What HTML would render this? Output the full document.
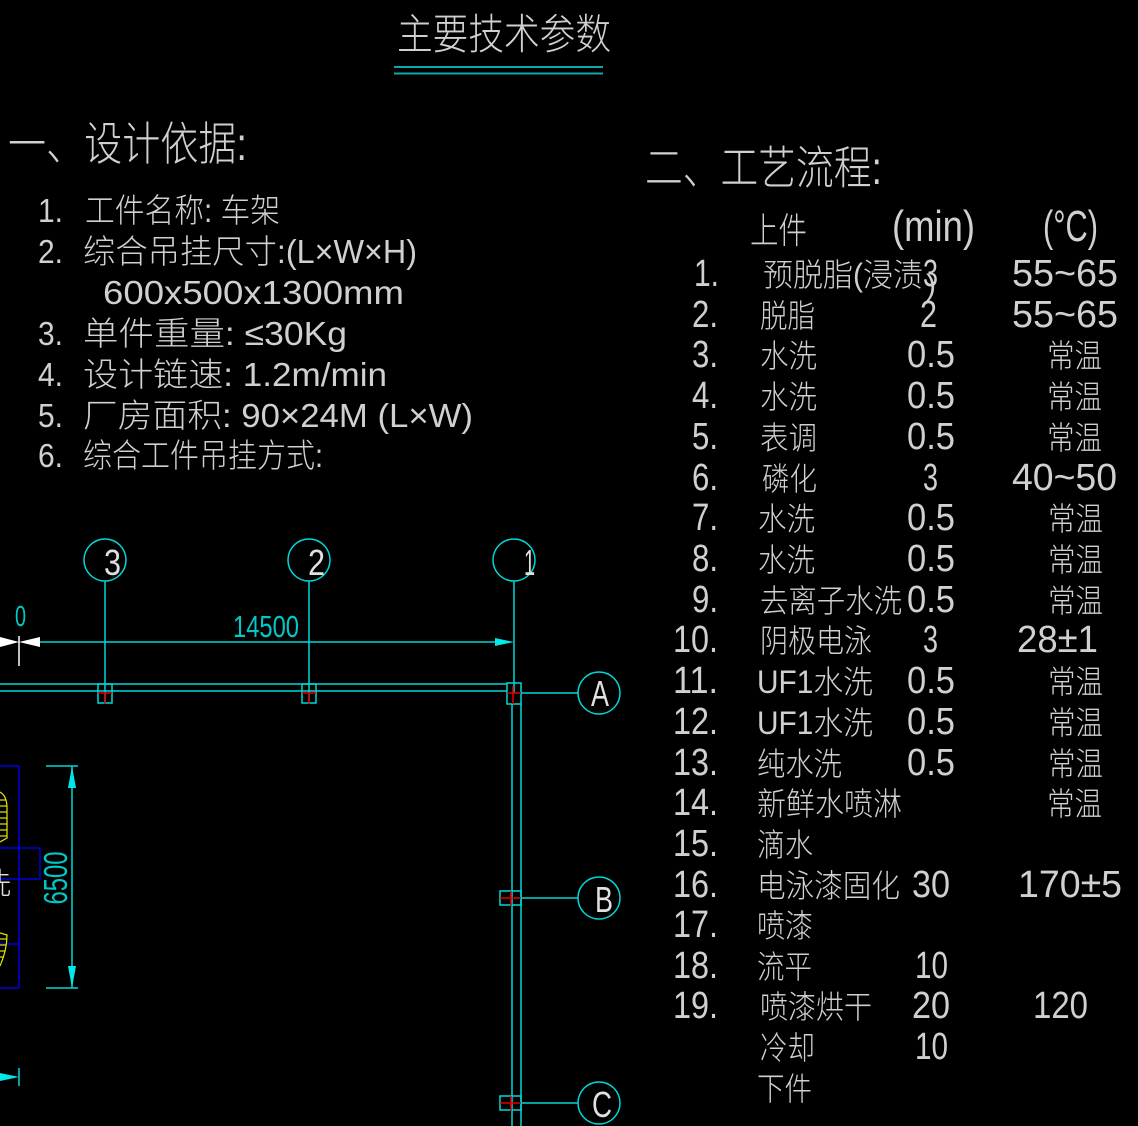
<!DOCTYPE html>
<html><head><meta charset="utf-8"><style>
html,body{margin:0;padding:0;background:#000;}
svg{display:block;}
text{font-family:"Liberation Sans","Noto Sans CJK SC",sans-serif;fill:#d0d0d0;font-weight:300;}
</style></head><body>
<svg width="1138" height="1126" viewBox="0 0 1138 1126" xmlns="http://www.w3.org/2000/svg">
<rect x="0" y="0" width="1138" height="1126" fill="#000"/>

<!-- Title -->
<text x="397" y="49" font-size="42" textLength="214" lengthAdjust="spacingAndGlyphs">主要技术参数</text>
<line x1="394" y1="67" x2="603" y2="67" stroke="#10a8a8" stroke-width="2"/>
<line x1="394" y1="73.5" x2="603" y2="73.5" stroke="#10a8a8" stroke-width="2"/>

<!-- Section 1 -->
<text x="8" y="160" font-size="46" textLength="239" lengthAdjust="spacingAndGlyphs">一、设计依据:</text>
<g font-size="33">
<text x="38" y="222" textLength="25" lengthAdjust="spacingAndGlyphs">1.</text>
<text x="85" y="222" textLength="195" lengthAdjust="spacingAndGlyphs">工件名称: 车架</text>
<text x="38" y="263" textLength="25" lengthAdjust="spacingAndGlyphs">2.</text>
<text x="83" y="263" textLength="334" lengthAdjust="spacingAndGlyphs">综合吊挂尺寸:(L×W×H)</text>
<text x="103" y="304" textLength="301" lengthAdjust="spacingAndGlyphs">600x500x1300mm</text>
<text x="38" y="345" textLength="25" lengthAdjust="spacingAndGlyphs">3.</text>
<text x="83" y="345" textLength="264" lengthAdjust="spacingAndGlyphs">单件重量:  ≤30Kg</text>
<text x="38" y="386" textLength="25" lengthAdjust="spacingAndGlyphs">4.</text>
<text x="83" y="386" textLength="304" lengthAdjust="spacingAndGlyphs">设计链速: 1.2m/min</text>
<text x="38" y="427" textLength="25" lengthAdjust="spacingAndGlyphs">5.</text>
<text x="83" y="427" textLength="390" lengthAdjust="spacingAndGlyphs">厂房面积: 90×24M (L×W)</text>
<text x="38" y="467" textLength="25" lengthAdjust="spacingAndGlyphs">6.</text>
<text x="83" y="467" textLength="240" lengthAdjust="spacingAndGlyphs">综合工件吊挂方式:</text>
</g>

<!-- Section 2 -->
<text x="645" y="184" font-size="46" textLength="237" lengthAdjust="spacingAndGlyphs">二、工艺流程:</text>
<text x="750" y="243" font-size="36" textLength="57" lengthAdjust="spacingAndGlyphs">上件</text>
<text x="892" y="241" font-size="44" textLength="83" lengthAdjust="spacingAndGlyphs">(min)</text>
<text x="1043" y="241" font-size="44" textLength="55" lengthAdjust="spacingAndGlyphs">(°C)</text>

<g font-size="38">
<!-- numbers -->
<text x="694" y="286" textLength="25" lengthAdjust="spacingAndGlyphs">1.</text>
<text x="692" y="327" textLength="26" lengthAdjust="spacingAndGlyphs">2.</text>
<text x="692" y="367" textLength="26" lengthAdjust="spacingAndGlyphs">3.</text>
<text x="692" y="408" textLength="26" lengthAdjust="spacingAndGlyphs">4.</text>
<text x="692" y="449" textLength="26" lengthAdjust="spacingAndGlyphs">5.</text>
<text x="692" y="490" textLength="26" lengthAdjust="spacingAndGlyphs">6.</text>
<text x="692" y="530" textLength="26" lengthAdjust="spacingAndGlyphs">7.</text>
<text x="692" y="571" textLength="26" lengthAdjust="spacingAndGlyphs">8.</text>
<text x="692" y="612" textLength="26" lengthAdjust="spacingAndGlyphs">9.</text>
<text x="673" y="652" textLength="45" lengthAdjust="spacingAndGlyphs">10.</text>
<text x="673" y="693" textLength="45" lengthAdjust="spacingAndGlyphs">11.</text>
<text x="673" y="734" textLength="45" lengthAdjust="spacingAndGlyphs">12.</text>
<text x="673" y="775" textLength="45" lengthAdjust="spacingAndGlyphs">13.</text>
<text x="673" y="815" textLength="45" lengthAdjust="spacingAndGlyphs">14.</text>
<text x="673" y="856" textLength="45" lengthAdjust="spacingAndGlyphs">15.</text>
<text x="673" y="897" textLength="45" lengthAdjust="spacingAndGlyphs">16.</text>
<text x="673" y="937" textLength="45" lengthAdjust="spacingAndGlyphs">17.</text>
<text x="673" y="978" textLength="45" lengthAdjust="spacingAndGlyphs">18.</text>
<text x="673" y="1018" textLength="45" lengthAdjust="spacingAndGlyphs">19.</text>

<!-- minutes -->
<text x="923" y="286" textLength="15" lengthAdjust="spacingAndGlyphs">3</text>
<text x="920" y="327" textLength="17" lengthAdjust="spacingAndGlyphs">2</text>
<text x="907" y="367" textLength="48" lengthAdjust="spacingAndGlyphs">0.5</text>
<text x="907" y="408" textLength="48" lengthAdjust="spacingAndGlyphs">0.5</text>
<text x="907" y="449" textLength="48" lengthAdjust="spacingAndGlyphs">0.5</text>
<text x="923" y="490" textLength="15" lengthAdjust="spacingAndGlyphs">3</text>
<text x="907" y="530" textLength="48" lengthAdjust="spacingAndGlyphs">0.5</text>
<text x="907" y="571" textLength="48" lengthAdjust="spacingAndGlyphs">0.5</text>
<text x="907" y="612" textLength="48" lengthAdjust="spacingAndGlyphs">0.5</text>
<text x="923" y="652" textLength="15" lengthAdjust="spacingAndGlyphs">3</text>
<text x="907" y="693" textLength="48" lengthAdjust="spacingAndGlyphs">0.5</text>
<text x="907" y="734" textLength="48" lengthAdjust="spacingAndGlyphs">0.5</text>
<text x="907" y="775" textLength="48" lengthAdjust="spacingAndGlyphs">0.5</text>
<text x="912" y="897" textLength="38" lengthAdjust="spacingAndGlyphs">30</text>
<text x="915" y="978" textLength="33" lengthAdjust="spacingAndGlyphs">10</text>
<text x="912" y="1018" textLength="38" lengthAdjust="spacingAndGlyphs">20</text>
<text x="915" y="1059" textLength="33" lengthAdjust="spacingAndGlyphs">10</text>

<!-- temperatures (numeric) -->
<text x="1012" y="286" textLength="106" lengthAdjust="spacingAndGlyphs">55~65</text>
<text x="1012" y="327" textLength="106" lengthAdjust="spacingAndGlyphs">55~65</text>
<text x="1012" y="490" textLength="105" lengthAdjust="spacingAndGlyphs">40~50</text>
<text x="1017" y="652" textLength="81" lengthAdjust="spacingAndGlyphs">28±1</text>
<text x="1018" y="897" textLength="104" lengthAdjust="spacingAndGlyphs">170±5</text>
<text x="1033" y="1018" textLength="55" lengthAdjust="spacingAndGlyphs">120</text>
</g>

<g font-size="32">
<!-- names -->
<text x="763" y="286" textLength="160" lengthAdjust="spacingAndGlyphs">预脱脂(浸渍</text>
<text x="760" y="327" textLength="55" lengthAdjust="spacingAndGlyphs">脱脂</text>
<text x="760" y="367" textLength="57" lengthAdjust="spacingAndGlyphs">水洗</text>
<text x="760" y="408" textLength="57" lengthAdjust="spacingAndGlyphs">水洗</text>
<text x="760" y="449" textLength="57" lengthAdjust="spacingAndGlyphs">表调</text>
<text x="762" y="490" textLength="55" lengthAdjust="spacingAndGlyphs">磷化</text>
<text x="758" y="530" textLength="57" lengthAdjust="spacingAndGlyphs">水洗</text>
<text x="758" y="571" textLength="57" lengthAdjust="spacingAndGlyphs">水洗</text>
<text x="760" y="612" textLength="142" lengthAdjust="spacingAndGlyphs">去离子水洗</text>
<text x="760" y="652" textLength="112" lengthAdjust="spacingAndGlyphs">阴极电泳</text>
<text x="757" y="693" textLength="116" lengthAdjust="spacingAndGlyphs">UF1水洗</text>
<text x="757" y="734" textLength="116" lengthAdjust="spacingAndGlyphs">UF1水洗</text>
<text x="757" y="775" textLength="85" lengthAdjust="spacingAndGlyphs">纯水洗</text>
<text x="757" y="815" textLength="145" lengthAdjust="spacingAndGlyphs">新鲜水喷淋</text>
<text x="757" y="856" textLength="56" lengthAdjust="spacingAndGlyphs">滴水</text>
<text x="757" y="897" textLength="143" lengthAdjust="spacingAndGlyphs">电泳漆固化</text>
<text x="757" y="937" textLength="56" lengthAdjust="spacingAndGlyphs">喷漆</text>
<text x="757" y="978" textLength="55" lengthAdjust="spacingAndGlyphs">流平</text>
<text x="760" y="1018" textLength="112" lengthAdjust="spacingAndGlyphs">喷漆烘干</text>
<text x="760" y="1059" textLength="55" lengthAdjust="spacingAndGlyphs">冷却</text>
<text x="757" y="1100" textLength="55" lengthAdjust="spacingAndGlyphs">下件</text>

<!-- temperatures 常温 -->
<text x="1047" y="367" textLength="55" lengthAdjust="spacingAndGlyphs">常温</text>
<text x="1047" y="408" textLength="55" lengthAdjust="spacingAndGlyphs">常温</text>
<text x="1047" y="449" textLength="55" lengthAdjust="spacingAndGlyphs">常温</text>
<text x="1048" y="530" textLength="55" lengthAdjust="spacingAndGlyphs">常温</text>
<text x="1048" y="571" textLength="55" lengthAdjust="spacingAndGlyphs">常温</text>
<text x="1048" y="612" textLength="55" lengthAdjust="spacingAndGlyphs">常温</text>
<text x="1048" y="693" textLength="55" lengthAdjust="spacingAndGlyphs">常温</text>
<text x="1048" y="734" textLength="55" lengthAdjust="spacingAndGlyphs">常温</text>
<text x="1048" y="775" textLength="55" lengthAdjust="spacingAndGlyphs">常温</text>
<text x="1047" y="815" textLength="55" lengthAdjust="spacingAndGlyphs">常温</text>
</g>
<text x="926" y="295" font-size="30" textLength="10" lengthAdjust="spacingAndGlyphs">)</text>

<!-- ===== Drawing ===== -->
<g fill="none" stroke="#00d8d8" stroke-width="1.5">
  <circle cx="105" cy="560" r="21"/>
  <circle cx="309" cy="560" r="21"/>
  <circle cx="514" cy="560" r="21"/>
  <circle cx="599" cy="693" r="21"/>
  <circle cx="599" cy="898" r="21"/>
  <circle cx="599" cy="1103" r="21"/>
  <line x1="105" y1="581" x2="105" y2="703"/>
  <line x1="309" y1="581" x2="309" y2="703"/>
  <line x1="514" y1="581" x2="514" y2="693"/>
  <line x1="521" y1="693" x2="578" y2="693"/>
  <line x1="521" y1="898" x2="578" y2="898"/>
  <line x1="521" y1="1103" x2="578" y2="1103"/>
  <line x1="0" y1="684" x2="507" y2="684"/>
  <line x1="0" y1="691" x2="507" y2="691"/>
  <line x1="512" y1="704" x2="512" y2="1126"/>
  <line x1="521" y1="704" x2="521" y2="1126"/>
  <rect x="98" y="684" width="14" height="19"/>
  <rect x="302" y="684" width="14" height="19"/>
  <rect x="507" y="683" width="14" height="21"/>
  <rect x="500" y="891" width="21" height="14"/>
  <rect x="500" y="1096" width="21" height="14"/>
  <line x1="40" y1="642" x2="500" y2="642"/>
  <line x1="72" y1="766" x2="72" y2="988"/>
  <line x1="46" y1="766" x2="78" y2="766"/>
  <line x1="46" y1="988" x2="78" y2="988"/>
  <line x1="0" y1="1077" x2="12" y2="1077"/>
  <line x1="19" y1="1068" x2="19" y2="1086"/>
</g>
<g fill="#00e8e8" stroke="none">
  <polygon points="514,642 495,638 495,646"/>
  <polygon points="72,766 68,788 76,788"/>
  <polygon points="72,988 68,966 76,966"/>
  <polygon points="19,1077 0,1073 0,1081"/>
</g>
<g fill="#ffffff" stroke="none">
  <polygon points="19,642 0,637 0,647"/>
  <polygon points="19,642 40,637 40,647"/>
</g>
<line x1="19" y1="636" x2="19" y2="666" stroke="#ffffff" stroke-width="1.5"/>

<g stroke="#e00000" stroke-width="1.5">
  <line x1="98" y1="693" x2="112" y2="693"/><line x1="105" y1="693" x2="105" y2="704"/>
  <line x1="302" y1="693" x2="316" y2="693"/><line x1="309" y1="693" x2="309" y2="704"/>
  <line x1="507" y1="693" x2="521" y2="693"/><line x1="513" y1="686" x2="513" y2="704"/>
  <line x1="500" y1="898" x2="521" y2="898"/><line x1="511" y1="891" x2="511" y2="906"/>
  <line x1="500" y1="1103" x2="521" y2="1103"/><line x1="511" y1="1096" x2="511" y2="1111"/>
</g>

<text x="233" y="637" font-size="31" textLength="66" lengthAdjust="spacingAndGlyphs" style="fill:#00c8c8">14500</text>
<text x="15" y="626" font-size="29" textLength="11" lengthAdjust="spacingAndGlyphs" style="fill:#00c8c8">0</text>
<text transform="translate(67,878) rotate(-90)" x="0" y="0" text-anchor="middle" font-size="33" textLength="53" lengthAdjust="spacingAndGlyphs" style="fill:#00c8c8">6500</text>

<g font-size="36">
  <text x="104" y="575" textLength="17" lengthAdjust="spacingAndGlyphs" style="fill:#e0e0e0">3</text>
  <text x="308" y="575" textLength="17" lengthAdjust="spacingAndGlyphs" style="fill:#e0e0e0">2</text>
  <text x="524" y="575" textLength="11" lengthAdjust="spacingAndGlyphs" style="fill:#e0e0e0">1</text>
  <text x="591" y="706" textLength="18" lengthAdjust="spacingAndGlyphs" style="fill:#e0e0e0">A</text>
  <text x="595" y="912" textLength="18" lengthAdjust="spacingAndGlyphs" style="fill:#e0e0e0">B</text>
  <text x="592" y="1117" textLength="20" lengthAdjust="spacingAndGlyphs" style="fill:#e0e0e0">C</text>
</g>

<g fill="none" stroke="#0000e0" stroke-width="1.5">
  <line x1="0" y1="766" x2="19" y2="766"/>
  <line x1="19" y1="766" x2="19" y2="988"/>
  <line x1="0" y1="988" x2="19" y2="988"/>
  <rect x="-2" y="848" width="42" height="31"/>
  <line x1="0" y1="944" x2="19" y2="944"/>
</g>
<g fill="none" stroke="#e8e800" stroke-width="1.2">
  <path d="M0,792 Q7,796 7,808 L7,838 L0,842"/>
  <line x1="0" y1="800" x2="6" y2="800"/>
  <line x1="0" y1="806" x2="7" y2="806"/>
  <line x1="0" y1="812" x2="7" y2="812"/>
  <line x1="0" y1="818" x2="7" y2="818"/>
  <line x1="0" y1="824" x2="7" y2="824"/>
  <line x1="0" y1="830" x2="7" y2="830"/>
  <line x1="0" y1="836" x2="7" y2="836"/>
  <path d="M0,933 L7,935 Q7,950 0,966"/>
  <line x1="0" y1="939" x2="7" y2="939"/>
  <line x1="0" y1="945" x2="6" y2="945"/>
  <line x1="0" y1="951" x2="5" y2="951"/>
  <line x1="0" y1="957" x2="4" y2="957"/>
</g>
<text x="-19" y="894" font-size="30" style="fill:#e0e0e0">洗</text>
</svg>
</body></html>
